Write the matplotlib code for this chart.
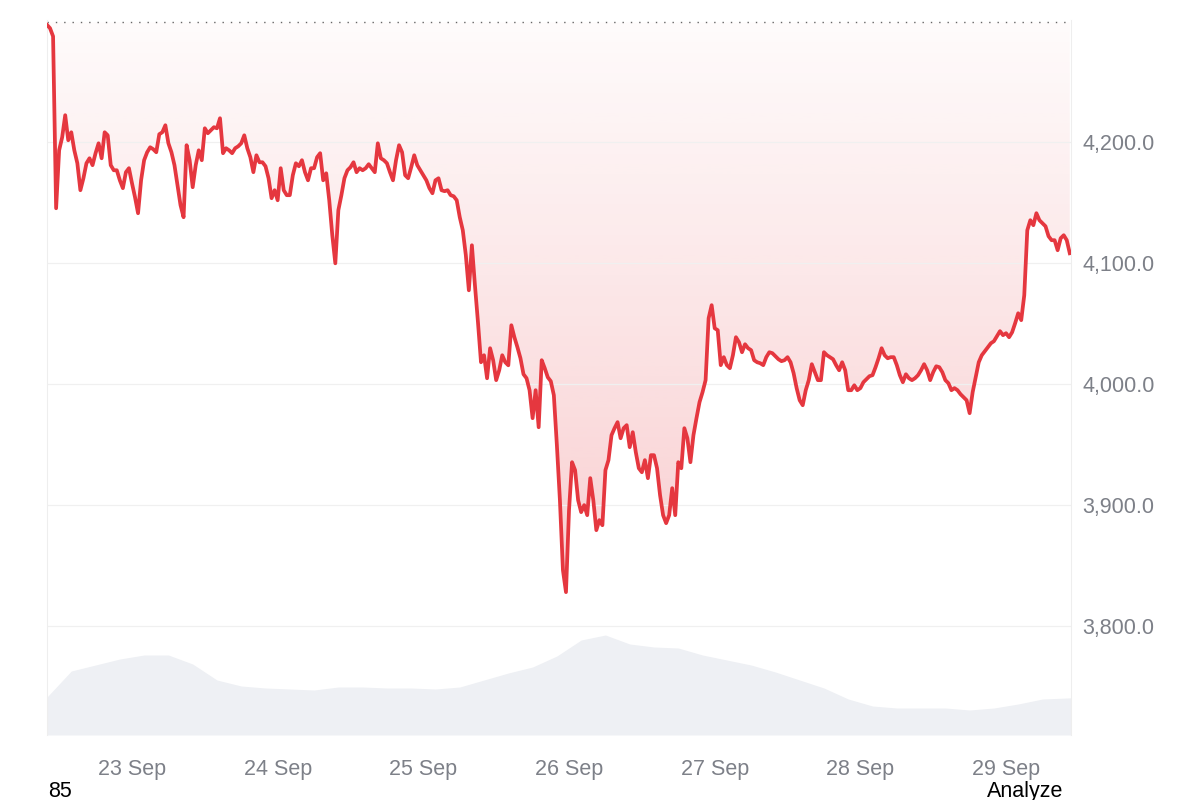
import numpy as np
import pandas as pd
import matplotlib
matplotlib.use("Agg")
import matplotlib.pyplot as plt
import matplotlib.dates as mdates
from matplotlib.ticker import FuncFormatter

# 30-minute price samples, 22 Sep 10:00 -> 29 Sep 10:30
price = [
    4297.0, 4294.2, 4287.5, 4145.4, 4193.3, 4204.1, 4222.3, 4201.6, 4208.2, 4193.3,
    4182.6, 4160.3, 4170.2, 4182.6, 4186.7, 4181.0, 4190.9, 4199.1, 4186.7, 4208.2,
    4205.7, 4181.0, 4176.8, 4176.8, 4168.5, 4162.0, 4175.2, 4178.5, 4166.1, 4154.5,
    4141.3, 4168.5, 4185.1, 4191.7, 4195.8, 4194.2, 4191.7, 4206.6, 4208.2, 4214.0,
    4199.1, 4191.7, 4181.0, 4164.4, 4147.9, 4138.0, 4197.5, 4185.1, 4162.8, 4181.0,
    4193.3, 4185.1, 4211.5, 4207.4, 4209.9, 4212.4, 4211.5, 4219.8, 4190.9, 4195.0,
    4193.3, 4190.9, 4195.0, 4196.6, 4199.1, 4205.7, 4195.0, 4187.6, 4175.2, 4189.2,
    4183.4, 4183.4, 4180.1, 4170.2, 4153.7, 4160.3, 4152.0, 4178.5, 4160.3, 4156.2,
    4156.2, 4172.7, 4182.6, 4180.1, 4185.1, 4175.2, 4168.5, 4178.5, 4178.5, 4187.6,
    4190.9, 4168.5, 4174.3, 4152.0, 4123.1, 4099.9, 4143.8, 4156.2, 4170.2, 4176.8,
    4179.3, 4183.4, 4175.2, 4178.5, 4176.8, 4178.5, 4181.8, 4178.5, 4175.2, 4199.1,
    4186.7, 4185.1, 4182.6, 4175.2, 4168.5, 4185.1, 4197.5, 4191.7, 4172.7, 4170.2,
    4179.3, 4189.2, 4181.0, 4176.8, 4172.7, 4168.5, 4162.0, 4157.8, 4168.5, 4170.2,
    4160.3, 4159.5, 4160.3, 4156.2, 4155.3, 4152.0, 4138.0, 4127.2, 4106.6, 4077.6,
    4114.8, 4081.8, 4051.2, 4018.1, 4023.9, 4004.9, 4029.7, 4019.8, 4003.3, 4011.5,
    4023.9, 4018.1, 4015.6, 4048.7, 4038.8, 4030.5, 4021.4, 4008.2, 4004.9, 3995.0,
    3971.9, 3995.0, 3964.4, 4019.8, 4013.2, 4005.7, 4002.4, 3990.9, 3949.6, 3904.1,
    3846.2, 3828.1, 3895.8, 3935.5, 3928.9, 3904.1, 3894.2, 3900.0, 3891.7, 3922.3,
    3904.1, 3879.3, 3887.6, 3883.4, 3928.9, 3937.2, 3957.8, 3963.6, 3968.6, 3955.3,
    3963.6, 3966.1, 3947.9, 3960.3, 3943.8, 3930.5, 3927.2, 3937.2, 3922.3, 3941.3,
    3941.3, 3930.5, 3908.2, 3891.7, 3885.1, 3891.7, 3914.0, 3891.7, 3935.5, 3930.5,
    3963.6, 3955.3, 3935.5, 3957.8, 3971.9, 3985.1, 3993.4, 4003.3, 4054.5, 4065.3,
    4046.2, 4044.6, 4015.7, 4022.3, 4015.7, 4013.2, 4023.9, 4038.8, 4034.7, 4026.4,
    4033.0, 4029.7, 4028.1, 4019.8, 4018.1, 4017.3, 4015.7, 4022.3, 4026.4, 4025.6,
    4023.1, 4020.6, 4019.0, 4019.8, 4022.3, 4018.1, 4009.1, 3996.7, 3986.7, 3982.6,
    3995.0, 4003.3, 4016.5, 4009.9, 4003.3, 4003.3, 4026.4, 4023.9, 4022.3, 4020.6,
    4015.7, 4011.5, 4018.1, 4011.5, 3995.0, 3995.0, 3999.1, 3995.0, 3996.7, 4001.6,
    4004.1, 4006.6, 4007.4, 4014.0, 4021.4, 4029.7, 4023.9, 4021.4, 4022.3, 4022.3,
    4015.7, 4007.4, 4001.6, 4008.2, 4004.9, 4003.3, 4004.9, 4007.4, 4011.5, 4016.5,
    4011.5, 4003.3, 4009.9, 4014.8, 4014.0, 4009.9, 4003.3, 4000.8, 3995.0, 3996.7,
    3995.0, 3991.7, 3989.2, 3986.7, 3976.0, 3993.4, 4005.7, 4018.1, 4023.9, 4027.2,
    4030.5, 4033.8, 4035.5, 4039.6, 4043.8, 4040.5, 4042.1, 4038.8, 4042.9, 4050.4,
    4058.6, 4052.9, 4073.5, 4127.2, 4135.5, 4131.4, 4141.3, 4135.5, 4133.0, 4130.5,
    4122.3, 4119.0, 4119.0, 4110.7, 4120.6, 4123.1, 4119.0, 4108.2,
]

# 4-hourly volume (relative units), same start
volume = [
    3.8, 6.4, 7.0, 7.6, 8.0, 8.0, 7.1, 5.5, 4.9, 4.7,
    4.6, 4.5, 4.8, 4.8, 4.7, 4.7, 4.6, 4.8, 5.5, 6.2,
    6.8, 7.9, 9.5, 10.0, 9.1, 8.8, 8.7, 8.0, 7.5, 7.0,
    6.3, 5.5, 4.7, 3.6, 2.9, 2.7, 2.7, 2.7, 2.5, 2.7,
    3.1, 3.6, 3.7, 3.8,
]

baseline = 4299.0
y_ticks = [3800, 3900, 4000, 4100, 4200]
x_ticks = ["2025-09-23", "2025-09-24", "2025-09-25", "2025-09-26",
           "2025-09-27", "2025-09-28", "2025-09-29"]

price_times = pd.date_range("2025-09-22 10:00", periods=len(price), freq="30min")
vol_times = pd.date_range("2025-09-22 10:00", periods=len(volume), freq="4h")

plt.rcParams["font.family"] = ["Liberation Sans", "DejaVu Sans"]

line_color = "#e5373f"
label_color = "#7d8088"

fig = plt.figure(figsize=(12, 8), dpi=100)
ax = fig.add_axes([47 / 1200, 65 / 800, 1024 / 1200, 715 / 800])
ax_vol = ax.twinx()
ax.set_zorder(ax_vol.get_zorder() + 1)
ax.patch.set_visible(False)

# volume area
ax_vol.fill_between(vol_times, volume, 0, color="#eef0f4", lw=0)
ax_vol.set_ylim(0, 71.5)
ax_vol.axis("off")

x0 = mdates.date2num(pd.Timestamp("2025-09-22 10:00"))
x1 = mdates.date2num(pd.Timestamp("2025-09-29 10:42"))
y_lo, y_hi = 3710, 4301

# gradient fill between the price and the start line
poly = ax.fill_between(price_times, price, baseline, facecolor="none", lw=0)
grad = np.zeros((256, 1, 4))
rgb = matplotlib.colors.to_rgb(line_color)
grad[:, 0, 0], grad[:, 0, 1], grad[:, 0, 2] = rgb
grad[:, 0, 3] = np.linspace(0.24, 0.02, 256)
img = ax.imshow(grad, extent=[x0, x1, min(price), baseline], aspect="auto",
                origin="lower", zorder=1)
img.set_clip_path(poly.get_paths()[0], transform=ax.transData)

ax.plot(price_times, price, color=line_color, lw=2.7, zorder=3,
        solid_joinstyle="round")
ax.axhline(baseline, color="#666666", lw=1, ls=(0, (1, 5)), zorder=2)

ax.set_xlim(x0, x1)
ax.set_ylim(y_lo, y_hi)

ax.set_yticks(y_ticks)
ax.yaxis.tick_right()
ax.yaxis.set_major_formatter(FuncFormatter(lambda v, p: f"{v:,.1f}"))
ax.grid(axis="y", color="#f0f0f0", lw=0.9, zorder=0)
ax.set_xticks([mdates.date2num(pd.Timestamp(d)) for d in x_ticks])
ax.xaxis.set_major_formatter(mdates.DateFormatter("%-d %b"))
ax.tick_params(axis="both", length=0, labelsize=15.5, labelcolor=label_color)
ax.tick_params(axis="y", pad=8)
ax.tick_params(axis="x", pad=17)

for side in ["top", "bottom"]:
    ax.spines[side].set_visible(False)
for side in ["left", "right"]:
    ax.spines[side].set_color("#eeeeee")
    ax.spines[side].set_linewidth(0.8)

fig.text(48 / 1200, 3 / 800, "85", fontsize=15.5, color="black", va="baseline")
fig.text(1063 / 1200, 3 / 800, "Analyze", fontsize=15.5, color="black",
         va="baseline", ha="right")

fig.savefig("out.png", dpi=100)
